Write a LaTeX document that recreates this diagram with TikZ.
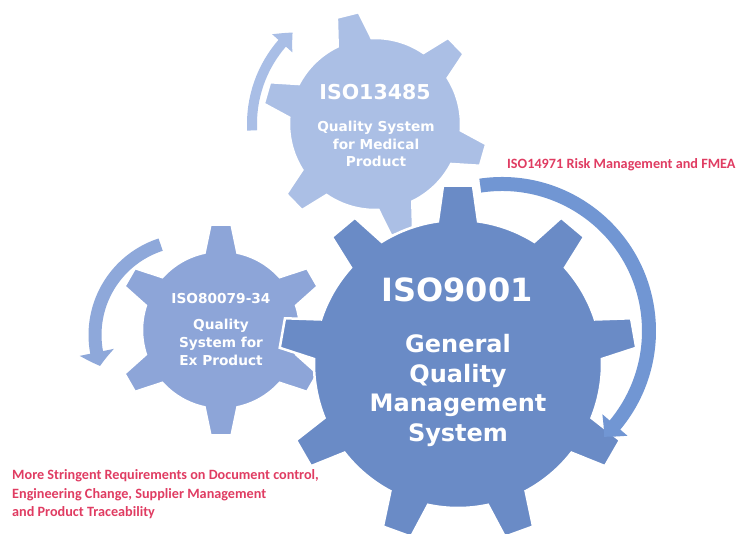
\documentclass[tikz,border=0pt]{standalone}
\usepackage{fontspec}
\setmainfont{DejaVu Sans}
\newfontfamily\redfont{Carlito}
\usetikzlibrary{arrows.meta,bending}
\definecolor{gbig}{HTML}{6A8BC6}
\definecolor{gleft}{HTML}{8DA5D8}
\definecolor{gtop}{HTML}{ABBFE5}
\definecolor{abig}{HTML}{7196D3}
\definecolor{aleft}{HTML}{8EA8DA}
\definecolor{atop}{HTML}{A9BEE6}
\definecolor{redtxt}{HTML}{E03C62}
% #1 style, #2 cx, #3 cy, #4 teeth, #5 tip radius, #6 root radius, #7 tip half angle, #8 root half angle, #9 offset
\newcommand{\drawgear}[9]{%
  \begin{scope}[shift={(#2,#3)}]
    \path[#1] ({#9-#8}:#6pt)
      \foreach \k [evaluate=\k as \ga using #9+(\k-1)*360/#4] in {1,...,#4}{
        -- ({\ga-#8}:#6pt) -- ({\ga-#7}:#5pt) -- ({\ga+#7}:#5pt) -- ({\ga+#8}:#6pt)
        arc[start angle={\ga+#8}, end angle={\ga+360/#4-#8}, radius=#6pt]
      } -- cycle;
  \end{scope}}
\begin{document}
\begin{tikzpicture}[x=1pt,y=1pt,
  gearstyle/.style={fill=#1, draw=white, line width=2.5pt, line join=miter},
  arcstyle/.style={draw=#1, line width=12pt, line cap=butt},
  bigtitle/.style={text=white, anchor=base, inner sep=0pt, font=\bfseries\fontsize{32}{36}\selectfont},
  bigsub/.style={text=white, anchor=base, inner sep=0pt, font=\bfseries\fontsize{24}{28}\selectfont},
  midtitle/.style={text=white, anchor=base, inner sep=0pt, font=\bfseries\fontsize{20.5}{24}\selectfont},
  smalltitle/.style={text=white, anchor=base, inner sep=0pt, font=\bfseries\fontsize{13.7}{16}\selectfont},
  smallsub/.style={text=white, anchor=base, inner sep=0pt, font=\bfseries\fontsize{13.7}{16}\selectfont},
  redlabel/.style={text=redtxt, anchor=base west, inner sep=0pt, font=\redfont\bfseries\fontsize{14.2}{17}\selectfont}
]
\useasboundingbox (0,0) rectangle (740,-534);
\fill[white] (0,0) rectangle (740,-534);

\coordinate (ctop) at (375,-124);
\coordinate (cleft) at (190,-335);
\coordinate (cbig) at (502,-331);

% gears
\drawgear{gearstyle=gtop}{375}{-124}{6}{113}{86}{5.7}{11.7}{104}
\drawgear{gearstyle=gleft}{221}{-330}{6}{106}{79}{5.7}{12}{90}
\drawgear{gearstyle=gbig}{458}{-364}{9}{179}{144}{4.8}{8}{90}

% circular arrows
\draw[arcstyle=atop, line width=10pt, -{Triangle[width=26pt,length=15pt,bend]}]
  ([shift={(183:123pt)}]ctop) arc[start angle=183, end angle=132, radius=123pt];
\draw[arcstyle=aleft, line width=13pt, -{Triangle[width=34pt,length=14pt,bend]}]
  ([shift={(108:95pt)}]cleft) arc[start angle=108, end angle=199, radius=95pt];
\draw[arcstyle=abig, line width=14pt, -{Triangle[width=32pt,length=16pt,bend]}]
  ([shift={(98.5:147pt)}]cbig) arc[start angle=98.5, end angle=-46, radius=147pt];

% texts top gear
\node[midtitle] (t1) at (375,-100) {ISO13485};
\node[smallsub] (t2) at (376,-132) {Quality System};
\node[smallsub] (t3) at (376,-149.5) {for Medical};
\node[smallsub] (t4) at (376,-167) {Product};

% texts left gear
\node[smalltitle] (l1) at (221,-304) {ISO80079-34};
\node[smallsub] (l2) at (221,-330) {Quality};
\node[smallsub] (l3) at (221,-348) {System for};
\node[smallsub] (l4) at (221,-366) {Ex Product};

% texts big gear
\node[bigtitle] (b1) at (457,-302) {ISO9001};
\node[bigsub] (b2) at (458,-353) {General};
\node[bigsub] (b3) at (458,-382.5) {Quality};
\node[bigsub] (b4) at (458,-412) {Management};
\node[bigsub] (b5) at (458,-442) {System};

% red labels
\node[redlabel] (r1) at (507,-168.5) {ISO14971 Risk Management and FMEA};
\node[redlabel] (r2) at (12,-479.3) {More Stringent Requirements on Document control,};
\node[redlabel] (r3) at (12,-498.3) {Engineering Change, Supplier Management};
\node[redlabel] (r4) at (12,-516.7) {and Product Traceability};
\end{tikzpicture}
\end{document}
